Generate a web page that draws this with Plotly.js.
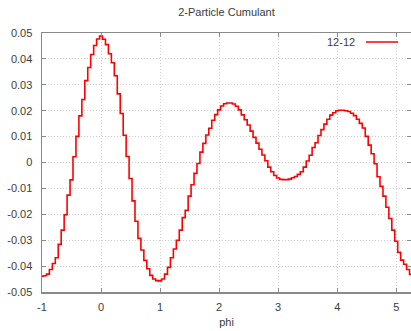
<!DOCTYPE html>
<html>
<head>
<meta charset="utf-8">
<script src="https://cdn.plot.ly/plotly-3.0.1.min.js"></script>
<style>html,body{margin:0;padding:0;background:#fff;}#chart{width:411px;height:331px;}</style>
</head>
<body>
<div id="chart"></div>
<script>
// bins: first bin centre and bin width (phi)
var phiStart = -1.0;
var binWidth = 0.05;
// series "12-12" values per bin
var cumulant = [
  -0.0439, -0.0437, -0.0431, -0.0413, -0.0390, -0.0368, -0.0316, -0.0261, -0.0202, -0.0126,
  -0.0067, 0.0022, 0.0101, 0.0180, 0.0243, 0.0316, 0.0367, 0.0417, 0.0452, 0.0477,
  0.0488, 0.0476, 0.0455, 0.0420, 0.0385, 0.0335, 0.0265, 0.0189, 0.0105, 0.0023,
  -0.0062, -0.0148, -0.0227, -0.0293, -0.0338, -0.0378, -0.0410, -0.0436, -0.0450, -0.0456,
  -0.0457, -0.0450, -0.0431, -0.0405, -0.0368, -0.0334, -0.0300, -0.0261, -0.0213, -0.0185,
  -0.0130, -0.0086, -0.0042, -0.0004, 0.0040, 0.0074, 0.0106, 0.0132, 0.0163, 0.0185,
  0.0203, 0.0218, 0.0227, 0.0230, 0.0230, 0.0226, 0.0217, 0.0203, 0.0184, 0.0165,
  0.0145, 0.0121, 0.0097, 0.0075, 0.0051, 0.0029, 0.0007, -0.0018, -0.0036, -0.0050,
  -0.0060, -0.0065, -0.0066, -0.0066, -0.0064, -0.0059, -0.0054, -0.0046, -0.0036, -0.0018,
  0.0006, 0.0028, 0.0058, 0.0076, 0.0104, 0.0127, 0.0148, 0.0167, 0.0183, 0.0192,
  0.0200, 0.0202, 0.0202, 0.0200, 0.0197, 0.0190, 0.0181, 0.0167, 0.0151, 0.0133,
  0.0101, 0.0067, 0.0034, -0.0005, -0.0055, -0.0092, -0.0130, -0.0173, -0.0216, -0.0261,
  -0.0304, -0.0347, -0.0377, -0.0393, -0.0413, -0.0432
];
var seriesName = "12-12";
var xTickVals = [-1, 0, 1, 2, 3, 4, 5];
var xTickText = ["-1", "0", "1", "2", "3", "4", "5"];
var yTickVals = [0.05, 0.04, 0.03, 0.02, 0.01, 0, -0.01, -0.02, -0.03, -0.04, -0.05];
var yTickText = ["0.05", "0.04", "0.03", "0.02", "0.01", "0", "-0.01", "-0.02", "-0.03", "-0.04", "-0.05"];
var titleText = "2-Particle Cumulant";
var xTitle = "phi";

var phi = cumulant.map(function (v, i) { return +(phiStart + i * binWidth).toFixed(4); });

var font = "Liberation Sans, Arial, sans-serif";
var axisCommon = {
  showline: true, linecolor: "#8a8a8a", linewidth: 1.5, mirror: "ticks",
  ticks: "inside", ticklen: 4, tickcolor: "#8a8a8a", tickwidth: 1,
  showgrid: true, gridcolor: "#d0d0d0", griddash: "1px,2px", gridwidth: 1,
  zeroline: false, tickfont: {family: font, size: 11, color: "#3c3c3c"},
  tickmode: "array", fixedrange: true
};

var trace = {
  x: phi, y: cumulant, type: "scatter", mode: "lines", name: seriesName,
  line: {color: "#ff0000", width: 1.6, shape: "hvh"}, showlegend: false
};

var layout = {
  width: 411, height: 331, autosize: false,
  margin: {l: 42, r: 0, t: 33, b: 39, pad: 0},
  paper_bgcolor: "#ffffff", plot_bgcolor: "#ffffff",
  title: {text: titleText, font: {family: font, size: 11, color: "#3c3c3c"}, x: 0.5, xref: "paper", y: 0.962, yref: "container", yanchor: "middle"},
  xaxis: Object.assign({}, axisCommon, {
    range: [-1, 5.25], tickvals: xTickVals, ticktext: xTickText, ticklabelstandoff: 4,
    title: {text: xTitle, font: {family: font, size: 11, color: "#3c3c3c"}, standoff: 6}
  }),
  yaxis: Object.assign({}, axisCommon, {
    range: [-0.05, 0.05], tickvals: yTickVals, ticktext: yTickText, ticklabelstandoff: 6
  }),
  annotations: [{
    xref: "paper", yref: "paper", x: 0.853, y: 0.965, xanchor: "right", yanchor: "middle",
    text: seriesName, showarrow: false, font: {family: font, size: 11, color: "#3c3c3c"}
  }],
  shapes: [{
    type: "line", xref: "paper", yref: "paper", x0: 0.878, x1: 0.965, y0: 0.965, y1: 0.965,
    line: {color: "#ff0000", width: 1.6}
  }]
};

Plotly.newPlot("chart", [trace], layout, {staticPlot: true, displayModeBar: false});
</script>
</body>
</html>
